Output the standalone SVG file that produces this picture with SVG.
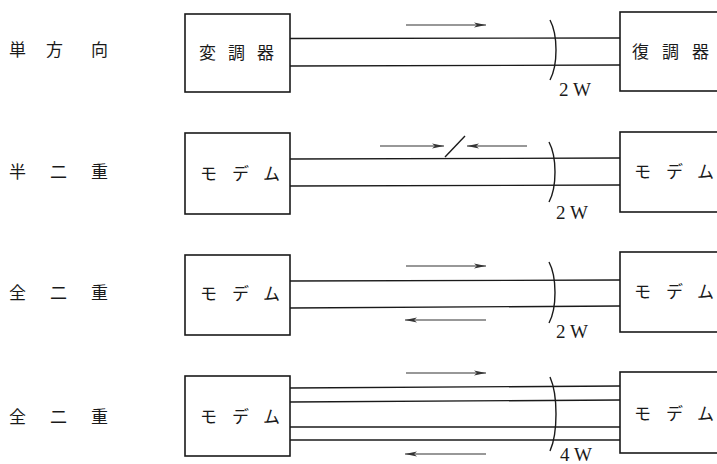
<svg xmlns="http://www.w3.org/2000/svg" width="717" height="464" viewBox="0 0 717 464">
<style>
.box{fill:#fff;stroke:#1a1a1a;stroke-width:1.6}
.ln{stroke:#1a1a1a;stroke-width:1.4;fill:none}
.ar{stroke:#333;stroke-width:1.2;fill:none}
.jp{font-family:"Noto Sans CJK JP",sans-serif;font-size:17px;fill:#1a1a1a}
.w{font-family:"Liberation Serif",serif;font-size:19px;fill:#1a1a1a}
</style>
<defs>
<marker id="ah" markerWidth="13" markerHeight="6" refX="12" refY="3" orient="auto" markerUnits="userSpaceOnUse">
<path d="M0,0.6 L12,3 L0,5.4 L3,3 Z" fill="#333"/>
</marker>
</defs>
<g id="labels">
<text class="jp" y="56"><tspan x="9">単</tspan><tspan x="46">方</tspan><tspan x="91">向</tspan></text>
<text class="jp" y="178"><tspan x="9">半</tspan><tspan x="50">二</tspan><tspan x="91">重</tspan></text>
<text class="jp" y="299"><tspan x="9">全</tspan><tspan x="50">二</tspan><tspan x="91">重</tspan></text>
<text class="jp" y="423"><tspan x="9">全</tspan><tspan x="50">二</tspan><tspan x="91">重</tspan></text>
</g>
<g id="connectors">
<line class="ln" x1="290" y1="38.5" x2="620" y2="38"/>
<line class="ln" x1="290" y1="66" x2="620" y2="65"/>
<line class="ar" x1="406" y1="25" x2="486" y2="25" marker-end="url(#ah)"/>
<path class="ln" d="M550,20 C558,35 558,65 550,80"/>
<line class="ln" x1="290" y1="159" x2="620" y2="158"/>
<line class="ln" x1="290" y1="186" x2="620" y2="185"/>
<line class="ar" x1="380" y1="146" x2="444" y2="146" marker-end="url(#ah)"/>
<line class="ar" x1="527" y1="146" x2="467" y2="146" marker-end="url(#ah)"/>
<line class="ln" x1="445" y1="157" x2="465" y2="136"/>
<path class="ln" d="M549,142 C557,157 557,187 549,202"/>
<line class="ln" x1="290" y1="281" x2="620" y2="280"/>
<line class="ln" x1="290" y1="308" x2="620" y2="306"/>
<line class="ar" x1="406" y1="266" x2="486" y2="266" marker-end="url(#ah)"/>
<line class="ar" x1="486" y1="320" x2="405" y2="320" marker-end="url(#ah)"/>
<path class="ln" d="M549,262 C557,277 557,308 549,323"/>
<line class="ln" x1="290" y1="388" x2="620" y2="386"/>
<line class="ln" x1="290" y1="402" x2="620" y2="400"/>
<line class="ln" x1="290" y1="427" x2="620" y2="427"/>
<line class="ln" x1="290" y1="440" x2="620" y2="440"/>
<line class="ar" x1="406" y1="373" x2="486" y2="373" marker-end="url(#ah)"/>
<line class="ar" x1="486" y1="454" x2="405" y2="454" marker-end="url(#ah)"/>
<path class="ln" d="M550,377 C558,395 558,433 550,451"/>
</g>
<g id="w-labels">
<text class="w" x="559" y="96">2 W</text>
<text class="w" x="556" y="219">2 W</text>
<text class="w" x="556" y="338">2 W</text>
<text class="w" x="560" y="461">4 W</text>
</g>
<g id="mod1"><rect class="box" x="185" y="14" width="105" height="78"/><text class="jp" y="59" font-size="18"><tspan x="199">変</tspan><tspan x="228">調</tspan><tspan x="257">器</tspan></text></g>
<g id="demod1"><rect class="box" x="620" y="12" width="110" height="79"/><text class="jp" y="58" font-size="18"><tspan x="632">復</tspan><tspan x="662">調</tspan><tspan x="692">器</tspan></text></g>
<g id="modem2L"><rect class="box" x="185" y="133" width="105" height="81"/><text class="jp" y="180"><tspan x="200">モ</tspan><tspan x="232">デ</tspan><tspan x="263">ム</tspan></text></g>
<g id="modem2R"><rect class="box" x="620" y="132" width="110" height="80"/><text class="jp" y="178"><tspan x="634">モ</tspan><tspan x="666">デ</tspan><tspan x="697">ム</tspan></text></g>
<g id="modem3L"><rect class="box" x="185" y="255" width="105" height="80"/><text class="jp" y="300"><tspan x="200">モ</tspan><tspan x="232">デ</tspan><tspan x="263">ム</tspan></text></g>
<g id="modem3R"><rect class="box" x="620" y="252" width="110" height="80"/><text class="jp" y="298"><tspan x="634">モ</tspan><tspan x="666">デ</tspan><tspan x="697">ム</tspan></text></g>
<g id="modem4L"><rect class="box" x="185" y="376" width="105" height="80"/><text class="jp" y="423"><tspan x="200">モ</tspan><tspan x="232">デ</tspan><tspan x="263">ム</tspan></text></g>
<g id="modem4R"><rect class="box" x="620" y="372" width="110" height="81"/><text class="jp" y="420"><tspan x="634">モ</tspan><tspan x="666">デ</tspan><tspan x="697">ム</tspan></text></g>
</svg>
